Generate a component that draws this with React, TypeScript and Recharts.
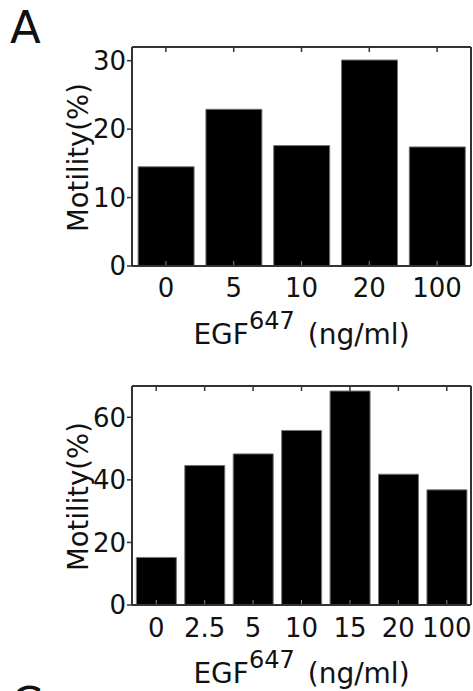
import { BarChart, Bar, XAxis, YAxis } from 'recharts'

const FONT = '"DejaVu Sans", Verdana, sans-serif'

// panel A, top: EGF647 dose series 1
const dosesTop = ['0', '5', '10', '20', '100']
const motilityTop = [14.5, 22.9, 17.6, 30.1, 17.4]
const ticksTop = [0, 10, 20, 30]

// panel A, bottom: EGF647 dose series 2
const dosesBottom = ['0', '2.5', '5', '10', '15', '20', '100']
const motilityBottom = [15.2, 44.6, 48.3, 55.8, 68.4, 41.8, 36.8]
const ticksBottom = [0, 20, 40, 60]

const axisColor = '#333'
const tickStyle = { fontSize: 26, fontFamily: FONT, fill: '#111' }

const XLabel = (props: any) => {
  const { viewBox } = props
  const cx = viewBox.x + viewBox.width / 2
  const y = viewBox.y + 78
  return (
    <text x={cx} y={y} textAnchor="middle" fontFamily={FONT} fontSize={28} fill="#111">
      <tspan>EGF</tspan>
      <tspan dy={-15} fontSize={24}>647</tspan>
      <tspan dy={15} dx={13}>(ng/ml)</tspan>
    </text>
  )
}

const YLabel = (props: any) => {
  const { viewBox } = props
  const x = viewBox.x + 88
  const y = viewBox.y + viewBox.height / 2 + 1
  return (
    <text
      x={x}
      y={y}
      transform={`rotate(-90, ${x}, ${y})`}
      textAnchor="middle"
      fontFamily={FONT}
      fontSize={27.5}
      fill="#111"
    >
      Motility(%)
    </text>
  )
}

type PanelProps = {
  doses: string[]
  values: number[]
  ticks: number[]
  yMax: number
  height: number
  top: number
  bottom: number
  tickGap: number
}

function Panel({ doses, values, ticks, yMax, height, top, bottom, tickGap }: PanelProps) {
  const data = doses.map((d, i) => ({ dose: d, motility: values[i] }))
  const noText = () => ''
  return (
    <BarChart
      width={473}
      height={height}
      data={data}
      margin={{ top: top - 1, right: 2, left: 0, bottom: 0 }}
      barCategoryGap="9%"
    >
      <Bar dataKey="motility" fill="#000" stroke="#777" strokeWidth={1} isAnimationActive={false} />
      <XAxis
        xAxisId="inner"
        dataKey="dose"
        height={1}
        mirror
        axisLine={false}
        tickSize={5}
        tickLine={{ stroke: '#888', strokeWidth: 1 }}
        tickFormatter={noText}
      />
      <XAxis
        dataKey="dose"
        height={bottom - 1}
        interval={0}
        tickLine={false}
        tickSize={6}
        tickMargin={tickGap - 1}
        axisLine={{ stroke: axisColor, strokeWidth: 2 }}
        tick={tickStyle}
        label={{ content: XLabel }}
      />
      <XAxis
        xAxisId="top"
        dataKey="dose"
        orientation="top"
        height={1}
        mirror
        tickSize={5}
        axisLine={{ stroke: axisColor, strokeWidth: 2 }}
        tickLine={{ stroke: axisColor, strokeWidth: 1.5 }}
        tickFormatter={noText}
      />
      <YAxis
        width={132}
        domain={[0, yMax]}
        ticks={ticks}
        tickSize={5}
        tickMargin={1}
        axisLine={{ stroke: axisColor, strokeWidth: 2 }}
        tickLine={{ stroke: axisColor, strokeWidth: 1.5 }}
        tick={tickStyle}
        label={{ content: YLabel }}
      />
      <YAxis
        yAxisId="right"
        orientation="right"
        width={1}
        mirror
        domain={[0, yMax]}
        ticks={ticks}
        tickSize={5}
        axisLine={{ stroke: axisColor, strokeWidth: 2 }}
        tickLine={{ stroke: axisColor, strokeWidth: 1.5 }}
        tickFormatter={noText}
      />
    </BarChart>
  )
}

export default function App() {
  return (
    <div style={{ position: 'absolute', left: 0, top: 0, width: 473, height: 691, overflow: 'hidden', background: '#fff' }}>
      <div style={{ position: 'absolute', left: 0, top: 0 }}>
        <Panel
          doses={dosesTop}
          values={motilityTop}
          ticks={ticksTop}
          yMax={32}
          height={350}
          top={48}
          bottom={350 - 265}
          tickGap={8}
        />
      </div>
      <div style={{ position: 'absolute', left: 0, top: 340 }}>
        <Panel
          doses={dosesBottom}
          values={motilityBottom}
          ticks={ticksBottom}
          yMax={70}
          height={351}
          top={47}
          bottom={351 - 264}
          tickGap={9}
        />
      </div>
      <div style={{ position: 'absolute', left: 10, top: 2, fontFamily: FONT, fontSize: 45, color: '#111', lineHeight: '52px' }}>
        A
      </div>
      <div style={{ position: 'absolute', left: 11, top: 678, fontFamily: FONT, fontSize: 45, color: '#111', lineHeight: '52px' }}>
        C
      </div>
    </div>
  )
}
